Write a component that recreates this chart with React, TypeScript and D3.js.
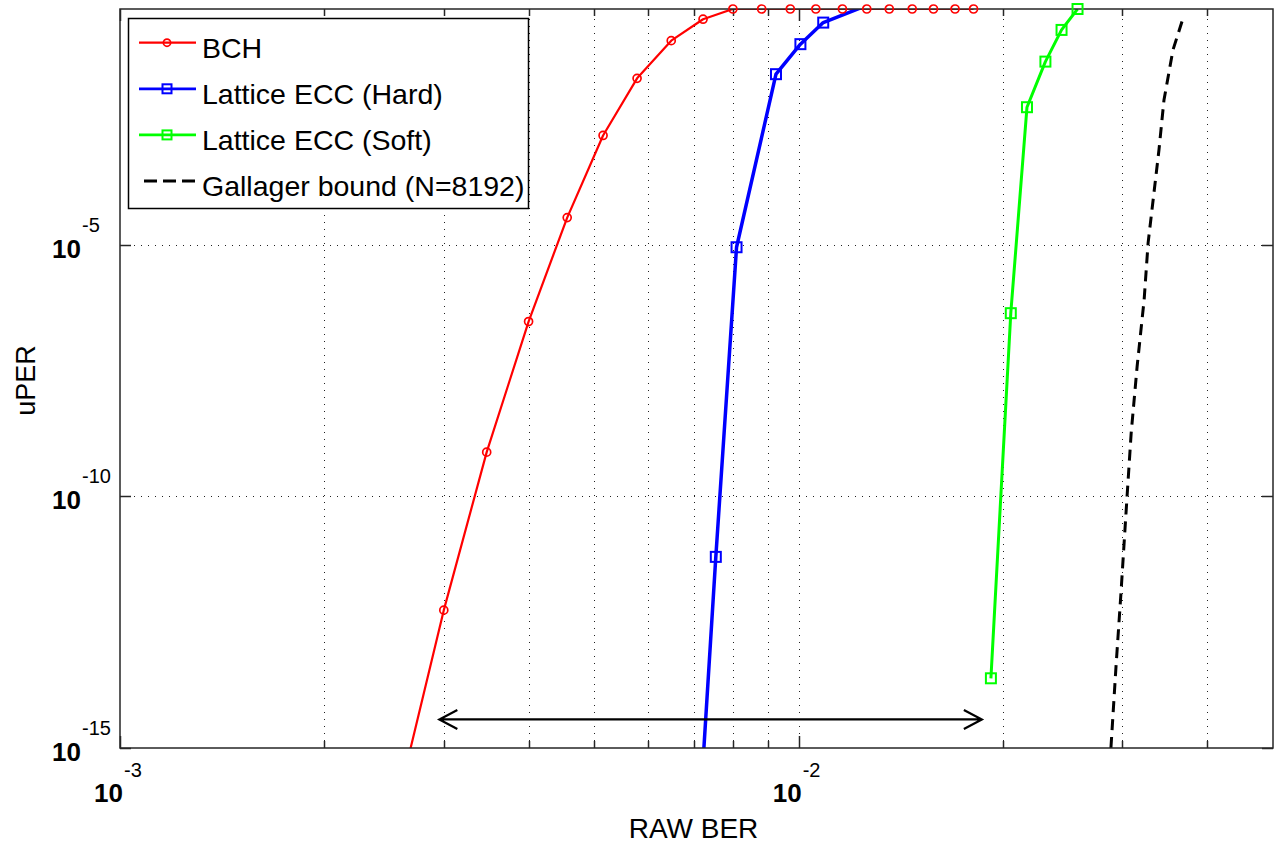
import React, { useEffect, useRef } from "react";
import * as d3 from "d3";

// BER (x) and uncorrectable page error rate (y)
const bchBer = [2.5e-3, 3.0e-3, 3.47e-3, 4.0e-3, 4.56e-3, 5.15e-3, 5.78e-3, 6.49e-3, 7.23e-3, 8.0e-3, 8.82e-3, 9.72e-3, 1.06e-2, 1.16e-2, 1.26e-2, 1.36e-2, 1.47e-2, 1.58e-2, 1.7e-2, 1.81e-2];
const bchPer = [2e-17, 5.5e-13, 7.6e-10, 3.0e-7, 3.5e-5, 1.5e-3, 2.05e-2, 0.115, 0.307, 0.49, 0.49, 0.49, 0.49, 0.49, 0.49, 0.49, 0.49, 0.49, 0.49, 0.49];

const hardBer = [7.2e-3, 7.55e-3, 8.1e-3, 9.26e-3, 1.006e-2, 1.087e-2, 1.3e-2];
const hardPer = [2.2e-16, 6.3e-12, 9.0e-6, 2.48e-2, 9.8e-2, 0.263, 0.68];

const softBer = [1.92e-2, 2.054e-2, 2.17e-2, 2.31e-2, 2.44e-2, 2.576e-2];
const softPer = [2.43e-14, 4.4e-7, 5.47e-3, 4.41e-2, 0.188, 0.49];

const gallagerBer = [2.885e-2, 2.935e-2, 2.985e-2, 3.047e-2, 3.09e-2, 3.153e-2, 3.229e-2, 3.273e-2, 3.396e-2, 3.454e-2, 3.561e-2, 3.697e-2];
const gallagerPer = [1e-15, 4.1e-14, 1.2e-12, 9.8e-11, 1.8e-9, 3.8e-8, 8.1e-7, 1.1e-5, 7.8e-4, 7.6e-3, 7.5e-2, 0.37];

const legendLabels = ["BCH", "Lattice ECC (Hard)", "Lattice ECC (Soft)", "Gallager bound (N=8192)"];

const xMajorTicks = [1e-3, 1e-2];
const xMajorExp = ["-3", "-2"];
const xMinorTicks = [2e-3, 3e-3, 4e-3, 5e-3, 6e-3, 7e-3, 8e-3, 9e-3, 2e-2, 3e-2, 4e-2];
const yTicks = [1e-15, 1e-10, 1e-5];
const yTickExp = ["-15", "-10", "-5"];

// double arrow annotation
const arrowBer = [2.955e-3, 1.862e-2];
const arrowPer = 3.7e-15;

const xDomain = [1e-3, 5e-2];
const yDomain = [1e-15, 0.49];

const W = 1277;
const H = 846;
const left = 120;
const right = 1273;
const top = 9;
const bottom = 748;
const font = "'Liberation Sans', Arial, Helvetica, sans-serif";

type Series = {
  ber: number[];
  per: number[];
  color: string;
  width: number;
  marker: "circle" | "square" | "none";
  dash?: string;
};

const series: Series[] = [
  { ber: bchBer, per: bchPer, color: "#ff0000", width: 2.2, marker: "circle" },
  { ber: hardBer, per: hardPer, color: "#0000ff", width: 3.5, marker: "square" },
  { ber: softBer, per: softPer, color: "#00ff00", width: 3, marker: "square" },
  { ber: gallagerBer, per: gallagerPer, color: "#000000", width: 3, marker: "none", dash: "11,7" },
];

export default function App() {
  const ref = useRef<SVGSVGElement>(null);

  useEffect(() => {
    const svg = d3.select(ref.current);
    svg.selectAll("*").remove();

    const x = d3.scaleLog().domain(xDomain).range([left, right]);
    const y = d3.scaleLog().domain(yDomain).range([bottom, top]);
    const px = (v: number) => Math.round(x(v)) + 0.5;
    const py = (v: number) => Math.round(y(v)) + 0.5;

    svg.append("rect").attr("width", W).attr("height", H).attr("fill", "#fff");

    svg
      .append("defs")
      .append("clipPath")
      .attr("id", "plot-clip")
      .append("rect")
      .attr("x", left)
      .attr("y", top)
      .attr("width", right - left)
      .attr("height", bottom - top);

    // dotted grid
    const grid = svg
      .append("g")
      .attr("stroke", "#222")
      .attr("stroke-width", 1)
      .attr("stroke-dasharray", "1,6")
      .attr("shape-rendering", "crispEdges");
    grid
      .selectAll("line.gx")
      .data([...xMinorTicks, 1e-2])
      .join("line")
      .attr("x1", (d) => px(d))
      .attr("x2", (d) => px(d))
      .attr("y1", bottom)
      .attr("y2", top);
    grid
      .selectAll("line.gy")
      .data(yTicks.slice(1))
      .join("line")
      .attr("class", "gy")
      .attr("x1", left)
      .attr("x2", right)
      .attr("y1", (d) => py(d))
      .attr("y2", (d) => py(d));

    // curves
    const line = d3
      .line<[number, number]>()
      .x((d) => x(d[0]))
      .y((d) => y(d[1]));
    const curves = svg.append("g").attr("clip-path", "url(#plot-clip)");
    series.forEach((s) => {
      const pts = s.ber.map((b, i) => [b, s.per[i]] as [number, number]);
      curves
        .append("path")
        .attr("d", line(pts))
        .attr("fill", "none")
        .attr("stroke", s.color)
        .attr("stroke-width", s.width)
        .attr("stroke-linejoin", "round")
        .attr("stroke-dasharray", s.dash || null);
    });

    // double arrow
    const ax1 = x(arrowBer[0]);
    const ax2 = x(arrowBer[1]);
    const ay = y(arrowPer);
    svg
      .append("path")
      .attr(
        "d",
        `M${ax1},${ay}L${ax2},${ay}M${ax1 + 18},${ay - 9.5}L${ax1},${ay}L${ax1 + 18},${ay + 9.5}M${ax2 - 18},${ay - 9.5}L${ax2},${ay}L${ax2 - 18},${ay + 9.5}`
      )
      .attr("fill", "none")
      .attr("stroke", "#000")
      .attr("stroke-width", 2.2);

    // frame and ticks
    const frame = svg.append("g").attr("stroke", "#262626").attr("stroke-width", 1.5).attr("fill", "none");
    frame.append("rect").attr("x", left).attr("y", top).attr("width", right - left).attr("height", bottom - top);
    const xt = [...xMajorTicks.map((v) => ({ v, len: 12 })), ...xMinorTicks.map((v) => ({ v, len: 7 }))];
    xt.forEach(({ v, len }) => {
      frame.append("line").attr("x1", px(v)).attr("x2", px(v)).attr("y1", bottom).attr("y2", bottom - len);
      frame.append("line").attr("x1", px(v)).attr("x2", px(v)).attr("y1", top).attr("y2", top + len);
    });
    yTicks.forEach((v) => {
      frame.append("line").attr("x1", left).attr("x2", left + 11).attr("y1", py(v)).attr("y2", py(v));
      frame.append("line").attr("x1", right).attr("x2", right - 11).attr("y1", py(v)).attr("y2", py(v));
    });

    // markers
    const markers = svg.append("g");
    series.forEach((s) => {
      if (s.marker === "none") return;
      const pts = s.ber
        .map((b, i) => [b, s.per[i]] as [number, number])
        .filter((d) => d[1] >= yDomain[0] && d[1] <= yDomain[1] * 1.01);
      const g = markers.append("g").attr("fill", "none").attr("stroke", s.color);
      if (s.marker === "circle") {
        g.selectAll("circle")
          .data(pts)
          .join("circle")
          .attr("cx", (d) => x(d[0]))
          .attr("cy", (d) => y(d[1]))
          .attr("r", 4)
          .attr("stroke-width", 1.7);
      } else {
        g.selectAll("rect")
          .data(pts)
          .join("rect")
          .attr("x", (d) => x(d[0]) - 5)
          .attr("y", (d) => y(d[1]) - 5)
          .attr("width", 10)
          .attr("height", 10)
          .attr("stroke-width", 2);
      }
    });

    // tick labels
    const labels = svg.append("g").attr("font-family", font).attr("fill", "#000");
    xMajorTicks.forEach((v, i) => {
      labels
        .append("text")
        .attr("x", x(v) + 3)
        .attr("y", 802)
        .attr("text-anchor", "end")
        .attr("font-size", 26)
        .attr("font-weight", "bold")
        .text("10");
      labels
        .append("text")
        .attr("x", x(v) + 4)
        .attr("y", 777)
        .attr("font-size", 20)
        .text(xMajorExp[i]);
    });
    yTicks.forEach((v, i) => {
      labels
        .append("text")
        .attr("x", 81)
        .attr("y", y(v) + 13)
        .attr("text-anchor", "end")
        .attr("font-size", 26)
        .attr("font-weight", "bold")
        .text("10");
      labels
        .append("text")
        .attr("x", 82)
        .attr("y", y(v) - 13)
        .attr("font-size", 20)
        .text(yTickExp[i]);
    });

    // axis titles
    labels
      .append("text")
      .attr("x", (left + right) / 2 - 3)
      .attr("y", 838)
      .attr("text-anchor", "middle")
      .attr("font-size", 28)
      .text("RAW BER");
    labels
      .append("text")
      .attr("transform", `translate(35,${(top + bottom) / 2 + 2}) rotate(-90)`)
      .attr("text-anchor", "middle")
      .attr("font-size", 27)
      .text("uPER");

    // legend
    const lg = svg.append("g");
    lg.append("rect")
      .attr("x", 128.5)
      .attr("y", 18.5)
      .attr("width", 400)
      .attr("height", 190)
      .attr("fill", "#fff")
      .attr("stroke", "#000")
      .attr("stroke-width", 1.5);
    series.forEach((s, i) => {
      const ly = 42.7 + i * 46.1;
      const row = lg.append("g");
      row
        .append("line")
        .attr("x1", s.dash ? 144 : 139)
        .attr("x2", 196)
        .attr("y1", ly)
        .attr("y2", ly)
        .attr("stroke", s.color)
        .attr("stroke-width", s.dash ? 3 : s.marker === "circle" ? 2.2 : 2.8)
        .attr("stroke-dasharray", s.dash ? "13,6" : null);
      if (s.marker === "circle") {
        row.append("circle").attr("cx", 167).attr("cy", ly).attr("r", 3.6).attr("fill", "none").attr("stroke", s.color).attr("stroke-width", 1.7);
      } else if (s.marker === "square") {
        row.append("rect").attr("x", 162.5).attr("y", ly - 4.5).attr("width", 9).attr("height", 9).attr("fill", "none").attr("stroke", s.color).attr("stroke-width", 2);
      }
      row
        .append("text")
        .attr("x", 202)
        .attr("y", ly + 15)
        .attr("font-family", font)
        .attr("font-size", 28.5)
        .attr("fill", "#000")
        .text(legendLabels[i]);
    });
  }, []);

  return (
    <>
      <style>{"body{margin:0}"}</style>
      <svg ref={ref} width={W} height={H} style={{ display: "block" }} />
    </>
  );
}
